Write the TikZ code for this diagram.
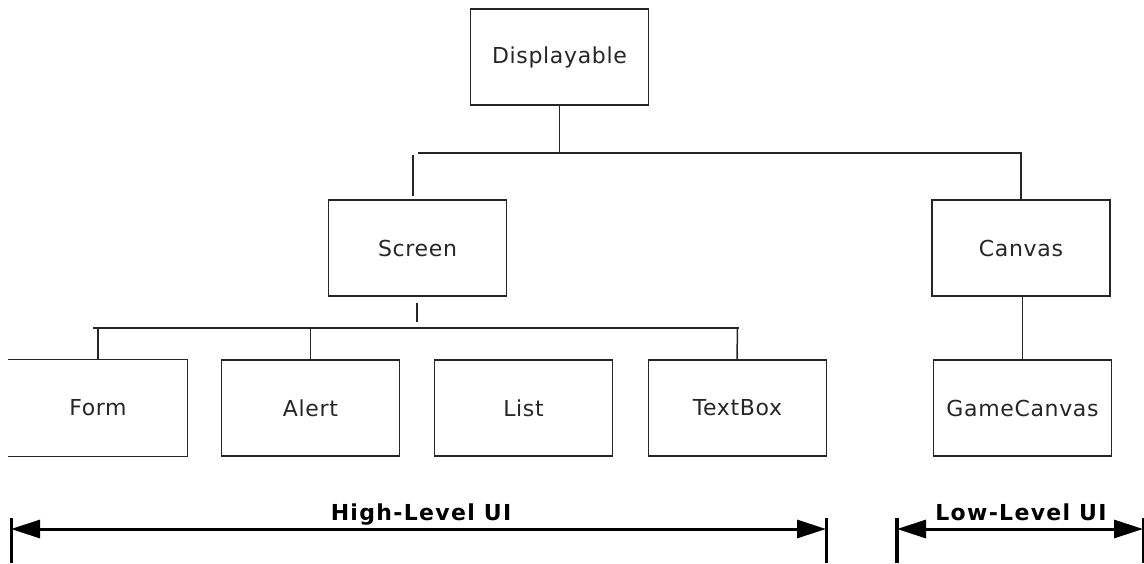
\documentclass[tikz,border=0pt]{standalone}
\usepackage{fontspec}
\usetikzlibrary{arrows.meta}
\newfontfamily\boxfont[LetterSpace=3]{DejaVu Sans}
\newfontfamily\spanfont[LetterSpace=6]{DejaVu Sans}
\definecolor{ink}{HTML}{262626}
\tikzset{
  cls/.style={draw=ink, line width=1.3pt, minimum width=178pt, minimum height=96pt,
    inner sep=0pt, font=\boxfont\fontsize{22}{25}\selectfont, text=ink},
  clsopen/.style={cls, draw=none},
  link/.style={draw=ink, line width=1.5pt},
  bus/.style={draw=ink, line width=2.2pt},
  stub/.style={draw=ink, line width=2pt},
  span/.style={draw=black, line width=3pt, {Triangle[length=29pt,width=18pt]}-{Triangle[length=29pt,width=18pt]}},
  spanbar/.style={draw=black, line width=3pt},
  spanlabel/.style={font=\spanfont\bfseries\fontsize{22}{25}\selectfont, inner sep=0pt, anchor=base}
}
\begin{document}
\begin{tikzpicture}[x=1pt, y=-1pt]
\useasboundingbox (0,0) rectangle (1144,563);

% class boxes
\node[cls] (disp) at (559.5,57) {Displayable};
\node[cls] (screen) at (417.5,248) {Screen};
\node[cls] (canvas) at (1021,248) {Canvas};
\node[clsopen] (form) at (98,408) {Form};
\node[cls] (alert) at (310.5,408) {Alert};
\node[cls] (list) at (523.5,408) {List};
\node[cls] (textbox) at (737.5,408) {TextBox};
\node[cls] (game) at (1022.5,408) {GameCanvas};
\draw[draw=ink, line width=1.3pt] (form.north west) -- (form.north east) -- (form.south east) -- (form.south west);

% Displayable branches
\coordinate (bus1l) at (418,153);
\coordinate (bus1r) at (canvas.north |- bus1l);
\draw[link] (disp.south) -- (disp.south |- bus1l);
\draw[link] (bus1l) -- (bus1r) -- (canvas.north);
\coordinate (s1top) at (413,155);
\coordinate (s1bot) at (413,196);
\draw[stub] (s1top) -- (s1bot);

% Screen branches
\coordinate (s2top) at (417,303);
\coordinate (s2bot) at (417,322);
\draw[stub] (s2top) -- (s2bot);
\coordinate (bus2l) at (93,328);
\coordinate (bus2r) at (739,328);
\draw[bus] (bus2l) -- (bus2r);
\draw[link] (form.north |- bus2l) -- (form.north);
\draw[link] (alert.north |- bus2l) -- (alert.north);
\draw[link] (textbox.north |- bus2l) -- ([xshift=-0.5pt]textbox.north);

% Canvas branch
\draw[link] (canvas.south) -- (canvas.south -| game.north) -- (game.north);

% UI level spans
\coordinate (hl) at (11,529);
\coordinate (hr) at (826,529);
\coordinate (ll) at (897,529);
\coordinate (lr) at (1143,529);
\draw[spanbar] ([yshift=11pt]hl) -- (hl |- 0,563);
\draw[spanbar] ([yshift=11pt]hr) -- (hr |- 0,563);
\draw[spanbar, line width=4pt] ([yshift=11pt]ll) -- (ll |- 0,563);
\draw[spanbar, line width=2pt] ([yshift=11pt]lr) -- (lr |- 0,563);
\draw[span] (hl) -- (hr);
\draw[span] (ll) -- (lr);
\node[spanlabel] (hilab) at (421,520) {High-Level UI};
\node[spanlabel] (lolab) at (1021,520) {Low-Level UI};
\end{tikzpicture}
\end{document}
